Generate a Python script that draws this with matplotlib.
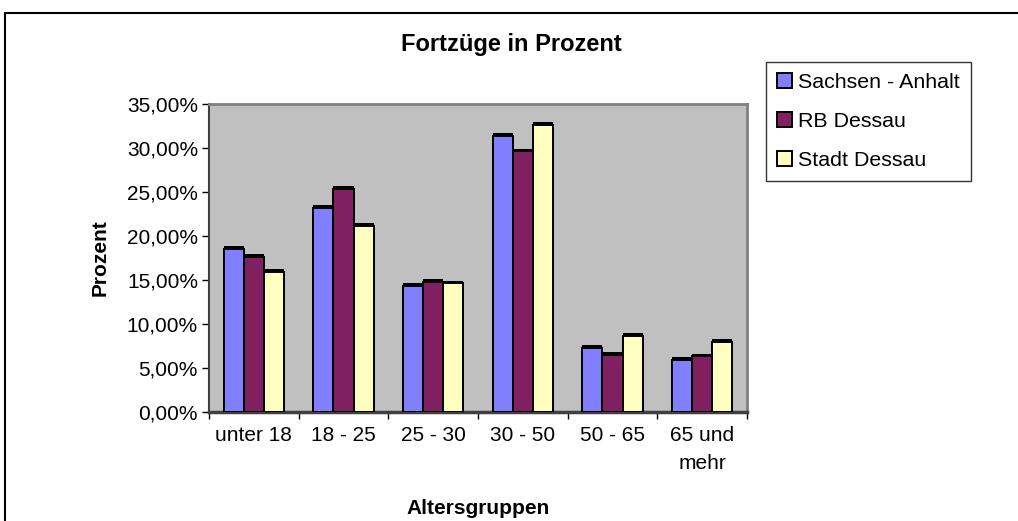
import matplotlib.pyplot as plt
import matplotlib.patheffects as pe
from matplotlib.patches import Rectangle
from matplotlib.ticker import FuncFormatter, FixedLocator
import numpy as np

# Data
categories = ["unter 18", "18 - 25", "25 - 30", "30 - 50", "50 - 65", "65 und\nmehr"]
series_names = ["Sachsen - Anhalt", "RB Dessau", "Stadt Dessau"]
sachsen_anhalt = [18.5, 23.2, 14.3, 31.4, 7.3, 5.9]
rb_dessau = [17.6, 25.3, 14.8, 29.6, 6.5, 6.3]
stadt_dessau = [15.9, 21.1, 14.6, 32.6, 8.6, 7.9]
colors = ["#8080FF", "#802060", "#FFFFC0"]

plt.rcParams['font.family'] = ['Liberation Sans', 'DejaVu Sans']

fig = plt.figure(figsize=(10.18, 5.21), dpi=100)
ax = fig.add_axes([209 / 1018, 1 - 411.7 / 521, 538 / 1018, 307.7 / 521])
ax.set_facecolor("#C0C0C0")

x = np.arange(len(categories))
width = 0.225
shadow = [pe.withSimplePatchShadow(offset=(0, 2.0), shadow_rgbFace="black", alpha=1.0), pe.Normal()]

for i, (name, vals) in enumerate(zip(series_names, [sachsen_anhalt, rb_dessau, stadt_dessau])):
    ax.bar(x + (i - 1) * width, vals, width, color=colors[i], edgecolor="black",
           linewidth=1.4, label=name, path_effects=shadow, zorder=3)

ax.set_xlim(-0.5, len(categories) - 0.5)
ax.set_ylim(0, 35)
ax.set_yticks(np.arange(0, 36, 5))
ax.yaxis.set_major_formatter(FuncFormatter(lambda v, p: f"{v:.2f}".replace(".", ",") + "%"))
ax.tick_params(axis="y", direction="out", length=5, width=1, labelsize=15, pad=3)

ax.set_xticks(x)
ax.set_xticklabels(categories, fontsize=15, linespacing=1.6)
ax.tick_params(axis="x", which="major", length=0, pad=10)
ax.xaxis.set_minor_locator(FixedLocator(np.arange(-0.5, len(categories), 1.0)))
ax.tick_params(axis="x", which="minor", direction="out", length=5, width=1)

for s in ["top", "right"]:
    ax.spines[s].set_color("#808080")
    ax.spines[s].set_linewidth(2)
ax.spines["left"].set_color("#404040")
ax.spines["bottom"].set_color("#404040")
ax.spines["left"].set_linewidth(1.5)
ax.spines["bottom"].set_linewidth(2.5)

ax.set_ylabel("Prozent", fontsize=15, fontweight="bold", labelpad=12)
fig.text(478 / 1018, 1 - 508 / 521, "Altersgruppen", ha="center", va="center",
         fontsize=15, fontweight="bold")
fig.text(511 / 1018, 1 - 45 / 521, "Fortzüge in Prozent", ha="center", va="center",
         fontsize=17, fontweight="bold")

leg = fig.legend(loc="upper left", bbox_to_anchor=(766 / 1018, 1 - 62 / 521),
                 bbox_transform=fig.transFigure, fontsize=15.4, frameon=True, fancybox=False,
                 borderaxespad=0, handlelength=0.7, handleheight=0.7, handletextpad=0.3,
                 labelspacing=0.95, borderpad=0.5)
leg.get_frame().set_edgecolor("black")
leg.get_frame().set_linewidth(1)
for h in leg.legend_handles:
    h.set_path_effects([])

# outer chart border
fig.patches.append(Rectangle((5 / 1018, -0.1), 1.2, 1.1 - 13 / 521, transform=fig.transFigure,
                             fill=False, edgecolor="black", linewidth=1.5))

fig.savefig("out.png", dpi=100)
